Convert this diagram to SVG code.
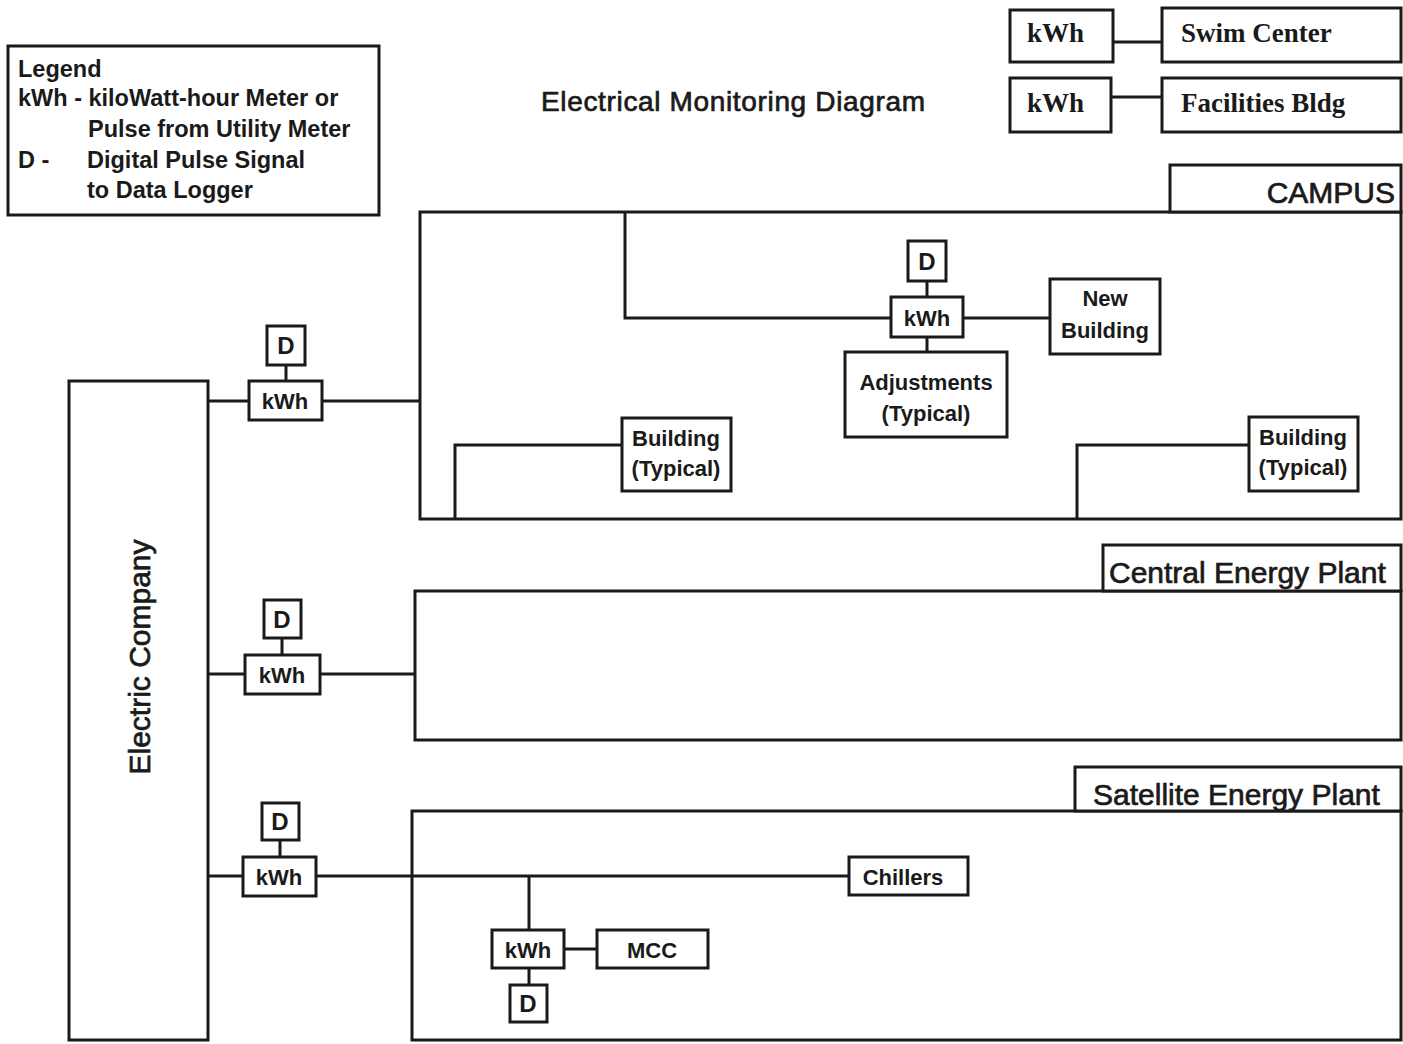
<svg xmlns="http://www.w3.org/2000/svg" width="1403" height="1044" viewBox="0 0 1403 1044">
<style>
.b{fill:#fff;stroke:#1a1a1a;stroke-width:3}
.l{fill:none;stroke:#1a1a1a;stroke-width:3}
.t{font-family:"Liberation Sans",Arial,sans-serif;font-weight:bold;fill:#1a1a1a;font-size:22px}
.g{font-size:23.5px}
.h{font-size:30px;font-weight:normal;stroke:#1a1a1a;stroke-width:0.7}
.s{font-family:"Liberation Serif","Times New Roman",serif;font-weight:bold;fill:#1a1a1a;font-size:27px}
.m{text-anchor:middle}
</style>
<rect width="1403" height="1044" fill="#fff"/>
<g id="legend">
<rect class="b" x="8" y="46" width="371" height="169"/>
<text class="t g" x="18" y="77">Legend</text>
<text class="t g" x="18" y="106">kWh - kiloWatt-hour Meter or</text>
<text class="t g" x="88" y="137">Pulse from Utility Meter</text>
<text class="t g" x="18" y="168">D -</text>
<text class="t g" x="87" y="168">Digital Pulse Signal</text>
<text class="t g" x="87" y="198">to Data Logger</text>
</g>
<g id="title"><text class="t" x="541" y="111" textLength="384" style="font-size:28px;font-weight:normal;stroke:#1a1a1a;stroke-width:0.7">Electrical Monitoring Diagram</text></g>
<g id="swim-kwh"><rect class="b" x="1010" y="10" width="103" height="52"/><text class="s" x="1027" y="42">kWh</text></g>
<g id="swim-center"><rect class="b" x="1162" y="8" width="239" height="54"/><text class="s" x="1181" y="42">Swim Center</text></g>
<g id="fac-kwh"><rect class="b" x="1010" y="78" width="101" height="54"/><text class="s" x="1027" y="112">kWh</text></g>
<g id="facilities"><rect class="b" x="1162" y="78" width="239" height="54"/><text class="s" x="1181" y="112">Facilities Bldg</text></g>
<g id="campus">
<rect class="b" x="420" y="212" width="981" height="307"/>
<rect class="b" x="1170" y="165" width="231" height="47"/>
<text class="t h" x="1395" y="203" text-anchor="end">CAMPUS</text>
</g>
<g id="campus-d"><rect class="b" x="908" y="241" width="38" height="40"/><text class="t m" x="927" y="270" style="font-size:24px">D</text></g>
<g id="campus-kwh"><rect class="b" x="891" y="297" width="72" height="40"/><text class="t m" x="927" y="326">kWh</text></g>
<g id="new-building"><rect class="b" x="1050" y="279" width="110" height="75"/><text class="t m" x="1105" y="306">New</text><text class="t m" x="1105" y="338">Building</text></g>
<g id="adjustments"><rect class="b" x="845" y="352" width="162" height="85"/><text class="t m" x="926" y="390">Adjustments</text><text class="t m" x="926" y="421">(Typical)</text></g>
<g id="building-1"><rect class="b" x="622" y="418" width="109" height="73"/><text class="t m" x="676" y="446">Building</text><text class="t m" x="676" y="476">(Typical)</text></g>
<g id="building-2"><rect class="b" x="1249" y="417" width="109" height="74"/><text class="t m" x="1303" y="445">Building</text><text class="t m" x="1303" y="475">(Typical)</text></g>
<g id="electric-company"><rect class="b" x="69" y="381" width="139" height="659"/><text class="t m h" transform="translate(150 657) rotate(-90)">Electric Company</text></g>
<g id="d1"><rect class="b" x="267" y="326" width="38" height="39"/><text class="t m" x="286" y="354" style="font-size:24px">D</text></g>
<g id="kwh1"><rect class="b" x="249" y="381" width="73" height="39"/><text class="t m" x="285" y="409">kWh</text></g>
<g id="central">
<rect class="b" x="415" y="591" width="986" height="149"/>
<rect class="b" x="1103" y="545" width="298" height="46"/>
<text class="t h" x="1109" y="583">Central Energy Plant</text>
</g>
<g id="d2"><rect class="b" x="264" y="600" width="37" height="38"/><text class="t m" x="282" y="628" style="font-size:24px">D</text></g>
<g id="kwh2"><rect class="b" x="245" y="655" width="75" height="39"/><text class="t m" x="282" y="683">kWh</text></g>
<g id="satellite">
<rect class="b" x="412" y="811" width="989" height="229"/>
<rect class="b" x="1075" y="767" width="326" height="44"/>
<text class="t h" x="1093" y="805">Satellite Energy Plant</text>
</g>
<g id="d3"><rect class="b" x="262" y="803" width="37" height="37"/><text class="t m" x="280" y="830" style="font-size:24px">D</text></g>
<g id="kwh3"><rect class="b" x="243" y="857" width="73" height="39"/><text class="t m" x="279" y="885">kWh</text></g>
<g id="chillers"><rect class="b" x="849" y="857" width="119" height="38"/><text class="t m" x="903" y="885">Chillers</text></g>
<g id="kwh4"><rect class="b" x="492" y="930" width="72" height="38"/><text class="t m" x="528" y="958">kWh</text></g>
<g id="mcc"><rect class="b" x="597" y="930" width="111" height="38"/><text class="t m" x="652" y="958">MCC</text></g>
<g id="d4"><rect class="b" x="510" y="985" width="37" height="37"/><text class="t m" x="528" y="1012" style="font-size:24px">D</text></g>
<g id="connectors">
<path class="l" d="M1113 42H1162M1111 97H1162"/>
<path class="l" d="M625 213V318H891M963 318H1050M927 281V297M927 337V352"/>
<path class="l" d="M455 519V445H622M1077 519V445H1249"/>
<path class="l" d="M208 401H249M322 401H420M286 365V381"/>
<path class="l" d="M208 674H245M320 674H415M282 638V655"/>
<path class="l" d="M208 876H243M316 876H849M280 840V857M529 876V930M564 949H597M529 968V985"/>
</g>
</svg>
